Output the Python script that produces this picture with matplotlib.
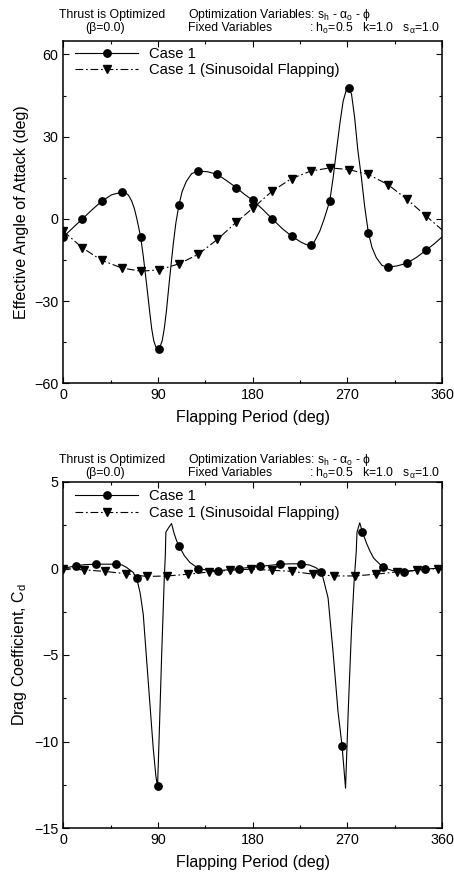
import matplotlib
matplotlib.use("Agg")
import matplotlib.pyplot as plt
from matplotlib.lines import Line2D
from matplotlib.ticker import MultipleLocator

plt.rcParams['font.family'] = ['Liberation Sans', 'DejaVu Sans']
plt.rcParams['mathtext.fontset'] = 'custom'
plt.rcParams['mathtext.rm'] = 'Liberation Sans'
plt.rcParams['mathtext.it'] = 'Liberation Sans'

# ---------------- Data: top panel (effective angle of attack) ----------------
aoa_case1_mk_x = [0, 18.2, 36.4, 55.4, 73.5, 91.2, 110, 128, 146.5, 164.5,
                  180.5, 198.5, 217, 235, 253.3, 271.3, 290, 308.6, 326.5, 345]
aoa_case1_mk_y = [-6.6, 0, 6.4, 9.7, -6.6, -47.4, 5.2, 17.4, 16.2, 11.4,
                  6.7, 0, -6.3, -9.7, 6.5, 47.6, -5.1, -17.6, -16.2, -11.4]
aoa_case1_line_x = [0, 9, 18.2, 27, 36.4, 46, 55.4, 59, 62, 65, 67.5, 69.7, 71.5, 73.5,
                    76, 79.2, 82, 84, 86, 88, 91.2, 94, 96, 98, 101, 104.5, 107, 110,
                    113, 117, 122, 128, 137, 146.5, 155, 164.5, 172, 180.5, 190, 198.5,
                    208, 217, 226, 231, 235, 238, 240.5, 243.8, 248, 253.3, 256.5,
                    259.6, 263, 266, 269, 271.3, 274, 277, 280, 283.4, 286.5, 290,
                    293.5, 297.6, 303, 308.6, 317, 326.5, 336, 345, 353, 360]
aoa_case1_line_y = [-6.6, -3.3, 0, 3.2, 6.4, 8.8, 9.7, 9.6, 8.6, 6.5, 3.8, 0.4, -2.8,
                    -6.6, -13.5, -23.9, -33.5, -40, -44.5, -46.8, -47.4, -44.5, -40,
                    -33.7, -22, -9.3, -1.5, 5.2, 10, 13.7, 16.5, 17.4, 17.2, 16.2, 14,
                    11.4, 9, 6.7, 3.3, 0, -3.5, -6.3, -8.5, -9.4, -9.7, -8.8, -7,
                    -4.5, 0, 6.5, 15, 24.7, 35, 42.9, 47, 47.6, 45.5, 36.8, 25, 15,
                    4.5, -5.1, -10.5, -14.2, -17, -17.6, -17.2, -16.2, -14, -11.4,
                    -9, -6.6]
aoa_sin_x = [0, 18.2, 36.4, 55.4, 73.5, 91.2, 110, 128, 146.5, 164.5,
             180.5, 198.5, 217, 235, 253.3, 271.3, 290, 308.6, 326.5, 345, 360]
aoa_sin_y = [-4.5, -10.6, -15.1, -17.9, -19.1, -18.6, -16.4, -13, -7.5, -1.2,
             4.0, 10.1, 14.7, 17.4, 18.6, 18.0, 16.2, 12.5, 7.2, 1.0, -4.0]
aoa_sin_n_markers = 20

# ---------------- Data: bottom panel (drag coefficient) ----------------
cd_case1_mk_x = [11.8, 30.7, 50, 69.7, 89.6, 110.2, 128.4, 147, 167, 187, 206,
                 226.4, 245.4, 265, 284.3, 304, 323.5, 343.5]
cd_case1_mk_y = [0.16, 0.25, 0.25, -0.56, -12.6, 1.28, 0.0, -0.13, 0.0, 0.12, 0.25,
                 0.27, -0.19, -10.25, 2.13, 0.06, -0.19, -0.04]
cd_case1_line_x = [0, 11.8, 20, 30.7, 40, 50, 56, 60.2, 66.5, 69.7, 73, 76, 80.7, 85.5,
                   88, 89.6, 91.5, 93.5, 95.9, 97.0, 97.5, 100, 102.9, 105, 107.7, 110.2,
                   115, 120.3, 128.4, 137, 147, 157, 167, 177, 187, 196, 206, 216,
                   226.4, 234, 240, 245.4, 248, 251.7, 256.4, 261.2, 265, 268.3,
                   271, 274, 276.5, 278.5, 279.2, 281.8, 284.3, 288, 291.3, 295,
                   299.2, 304, 313, 323.5, 333, 343.5, 352, 360]
cd_case1_line_y = [0.0, 0.16, 0.22, 0.25, 0.25, 0.25, 0.2, 0.06, -0.23, -0.56, -1.4,
                   -2.65, -6.5, -10.4, -12.0, -12.6, -9.0, -5.0, -0.72, 0.8, 2.1, 2.35,
                   2.6, 2.1, 1.6, 1.28, 0.75, 0.35, 0.0, -0.1, -0.13, -0.07, 0.0, 0.06,
                   0.12, 0.18, 0.25, 0.27, 0.27, 0.2, 0.05, -0.19, -0.8, -1.7, -4.8,
                   -8.3, -10.25, -12.7, -8.0, -3.5, -0.7, 1.0, 2.1, 2.64, 2.13, 1.5,
                   1.03, 0.6, 0.35, 0.06, -0.12, -0.19, -0.12, -0.04, 0.0, 0.0]
cd_sin_x = [0, 19.8, 39.6, 59.4, 79.2, 99, 118.8, 138.6, 158.4, 178.2, 198, 217.8,
            237.6, 257.4, 277.2, 297, 316.8, 336.6, 356.4, 360]
cd_sin_y = [0.0, -0.08, -0.17, -0.3, -0.46, -0.43, -0.33, -0.2, -0.1, -0.04, -0.1,
            -0.17, -0.33, -0.43, -0.43, -0.33, -0.2, -0.1, 0.0, 0.0]
cd_sin_n_markers = 19

legend_labels = ['Case 1', 'Case 1 (Sinusoidal Flapping)']
x_ticks = [0, 90, 180, 270, 360]

# ---------------- Figure ----------------
W, H = 454, 874
fig = plt.figure(figsize=(W / 100, H / 100), dpi=100)
fig.patch.set_facecolor('white')

TOP1, BOT1 = 40.7, 383.3
TOP2, BOT2 = 482, 828
ax1 = fig.add_axes([63.3 / W, 1 - BOT1 / H, (442 - 63.3) / W, (BOT1 - TOP1) / H])
ax2 = fig.add_axes([63.3 / W, 1 - BOT2 / H, (442 - 63.3) / W, (BOT2 - TOP2) / H])

LW = 0.8
DASHDOT = (0, (7, 2.5, 1.5, 2.5))
MS = 5.3


def style_axes(ax, ylim, ymajor, yminor, ylabel):
    ax.set_xlim(0, 360)
    ax.set_ylim(*ylim)
    ax.set_xticks(x_ticks)
    ax.xaxis.set_minor_locator(MultipleLocator(45))
    ax.yaxis.set_major_locator(MultipleLocator(ymajor))
    ax.yaxis.set_minor_locator(MultipleLocator(yminor))
    ax.tick_params(which='both', direction='in', top=True, right=True,
                   labelsize=10.3, width=0.8, colors='black')
    ax.tick_params(which='major', length=4)
    ax.tick_params(which='minor', length=2.5)
    for s in ax.spines.values():
        s.set_linewidth(1.1)
    ax.set_xlabel('Flapping Period (deg)', fontsize=11.5, labelpad=6)
    ax.set_ylabel(ylabel, fontsize=11.5, labelpad=4)


def legend(ax, top_px, height_px):
    h1 = Line2D([], [], color='k', lw=LW, marker='o', ms=MS)
    h2 = Line2D([], [], color='k', lw=LW, ls=DASHDOT, marker='v', ms=MS)
    ax.legend([h1, h2], legend_labels, loc='upper left',
              bbox_to_anchor=(0.031, 1 - top_px / height_px),
              frameon=False, fontsize=10.6, handlelength=4.3, handletextpad=0.75,
              borderpad=0, borderaxespad=0, labelspacing=0.16, numpoints=1)


# top panel
ax1.plot(aoa_case1_line_x, aoa_case1_line_y, color='k', lw=LW, zorder=3)
ax1.plot(aoa_case1_mk_x, aoa_case1_mk_y, ls='none', marker='o', ms=MS, color='k', zorder=4)
ax1.plot(aoa_sin_x, aoa_sin_y, color='k', lw=LW, ls=DASHDOT, zorder=2)
ax1.plot(aoa_sin_x[:aoa_sin_n_markers], aoa_sin_y[:aoa_sin_n_markers], ls='none',
         marker='v', ms=MS, color='k', zorder=4)
style_axes(ax1, (-60, 65), 30, 15, 'Effective Angle of Attack (deg)')
legend(ax1, 6.0, BOT1 - TOP1)

# bottom panel
ax2.plot(cd_case1_line_x, cd_case1_line_y, color='k', lw=LW, zorder=3)
ax2.plot(cd_case1_mk_x, cd_case1_mk_y, ls='none', marker='o', ms=MS, color='k', zorder=4)
ax2.plot(cd_sin_x, cd_sin_y, color='k', lw=LW, ls=DASHDOT, zorder=2)
ax2.plot(cd_sin_x[:cd_sin_n_markers], cd_sin_y[:cd_sin_n_markers], ls='none',
         marker='v', ms=MS, color='k', zorder=4)
style_axes(ax2, (-15, 5), 5, 2.5, r'Drag Coefficient, $\mathregular{C_d}$')
legend(ax2, 7.3, BOT2 - TOP2)

# header texts
HF = 8.8
for y0 in (15, 460):
    fig.text(111.7 / W, 1 - y0 / H, 'Thrust is Optimized', ha='center', va='center', fontsize=HF)
    fig.text(104.7 / W, 1 - (y0 + 13.3) / H, '(β=0.0)', ha='center', va='center', fontsize=HF)
    fig.text(188 / W, 1 - y0 / H,
             r'Optimization Variables: $\mathregular{s_h}$ - $\mathregular{\alpha_o}$ - ϕ',
             ha='left', va='center', fontsize=HF)
    fig.text(188 / W, 1 - (y0 + 13.3) / H, 'Fixed Variables', ha='left', va='center', fontsize=HF)
    fig.text(309 / W, 1 - (y0 + 13.3) / H,
             r': $\mathregular{h_o}$=0.5   k=1.0   $\mathregular{s_\alpha}$=1.0',
             ha='left', va='center', fontsize=HF)

fig.savefig('out.png', dpi=100, facecolor='white')
